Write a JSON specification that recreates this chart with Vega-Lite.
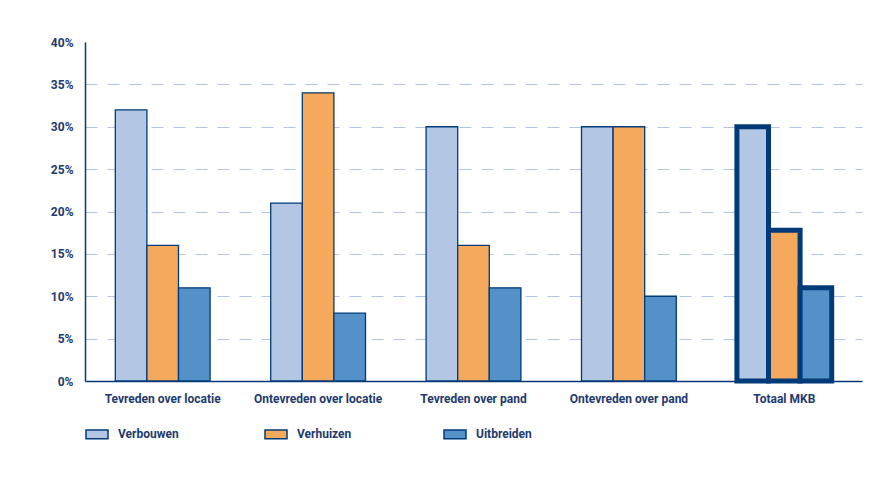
{
  "$schema": "https://vega.github.io/schema/vega-lite/v6.json",
  "width": 777,
  "height": 339,
  "autosize": {"type": "none"},
  "padding": {"left": 85, "top": 42, "right": 14, "bottom": 98},
  "background": "white",
  "config": {
    "font": "Roboto",
    "view": {"stroke": null},
    "axis": {"labelFont": "Roboto", "labelFontWeight": "bold", "labelColor": "#1e3a6e", "labelFontSize": 12, "domainColor": "#003a78", "domainWidth": 1.5, "ticks": false, "title": null}
  },
  "data": {
    "values": [
      {"group": "Tevreden over locatie", "series": "Verbouwen", "value": 32},
      {"group": "Tevreden over locatie", "series": "Verhuizen", "value": 16},
      {"group": "Tevreden over locatie", "series": "Uitbreiden", "value": 11},
      {"group": "Ontevreden over locatie", "series": "Verbouwen", "value": 21},
      {"group": "Ontevreden over locatie", "series": "Verhuizen", "value": 34},
      {"group": "Ontevreden over locatie", "series": "Uitbreiden", "value": 8},
      {"group": "Tevreden over pand", "series": "Verbouwen", "value": 30},
      {"group": "Tevreden over pand", "series": "Verhuizen", "value": 16},
      {"group": "Tevreden over pand", "series": "Uitbreiden", "value": 11},
      {"group": "Ontevreden over pand", "series": "Verbouwen", "value": 30},
      {"group": "Ontevreden over pand", "series": "Verhuizen", "value": 30},
      {"group": "Ontevreden over pand", "series": "Uitbreiden", "value": 10},
      {"group": "Totaal MKB", "series": "Verbouwen", "value": 30},
      {"group": "Totaal MKB", "series": "Verhuizen", "value": 17.8},
      {"group": "Totaal MKB", "series": "Uitbreiden", "value": 11}
    ]
  },
  "mark": {"type": "bar", "stroke": "#003a78"},
  "encoding": {
    "x": {
      "field": "group", "type": "nominal", "sort": null,
      "scale": {"paddingInner": 0.39, "paddingOuter": 0.195},
      "axis": {"labelAngle": 0, "labelPadding": 12, "domain": true, "grid": false}
    },
    "xOffset": {
      "field": "series", "type": "nominal",
      "scale": {"domain": ["Verbouwen", "Verhuizen", "Uitbreiden"], "paddingInner": 0, "paddingOuter": 0}
    },
    "y": {
      "field": "value", "type": "quantitative",
      "scale": {"domain": [0, 40], "nice": false},
      "axis": {
        "values": [0, 5, 10, 15, 20, 25, 30, 35, 40],
        "labelExpr": "datum.value + '%'",
        "labelPadding": 12,
        "grid": true,
        "gridColor": "#b4c4df",
        "gridWidth": 1.2,
        "gridDash": [12, 10],
        "gridOpacity": {"condition": {"test": "datum.value >= 40 || datum.value <= 0", "value": 0}, "value": 1}
      }
    },
    "color": {
      "field": "series", "type": "nominal",
      "scale": {"domain": ["Verbouwen", "Verhuizen", "Uitbreiden"], "range": ["#b3c6e4", "#f5a95c", "#5591c9"]},
      "legend": {
        "title": null,
        "orient": "none",
        "legendX": 0,
        "legendY": 380,
        "direction": "horizontal",
        "columns": 3,
        "gridAlign": "all",
        "columnPadding": 83,
        "symbolType": "M-1,-0.4L1,-0.4L1,0.4L-1,0.4Z",
        "symbolSize": 484,
        "symbolStrokeColor": "#003a78",
        "symbolStrokeWidth": 1.5,
        "symbolOpacity": 1,
        "labelFont": "Roboto",
        "labelFontWeight": "bold",
        "labelFontSize": 12,
        "labelColor": "#1e3a6e",
        "labelOffset": 9
      }
    },
    "strokeWidth": {"condition": {"test": "datum.group === 'Totaal MKB'", "value": 5}, "value": 1.3}
  }
}
